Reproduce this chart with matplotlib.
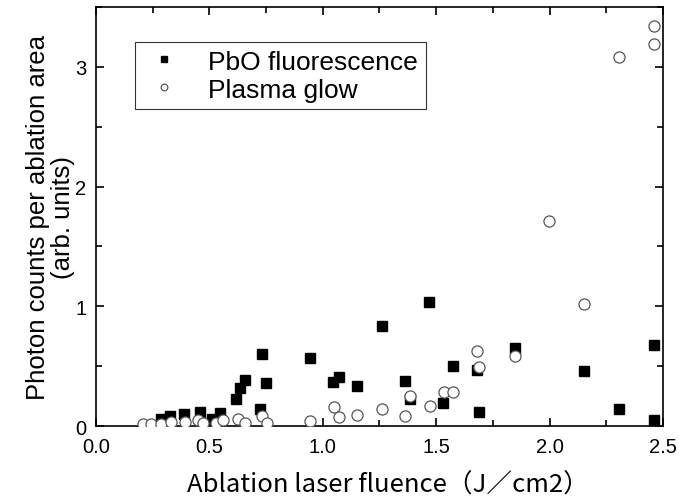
import matplotlib
matplotlib.use("Agg")
import matplotlib.pyplot as plt
from matplotlib.ticker import MultipleLocator

# PbO fluorescence (filled squares)
pbo_x = [0.288, 0.325, 0.388, 0.457, 0.513, 0.545, 0.619, 0.634, 0.656, 0.725, 0.732, 0.749,
         0.943, 1.046, 1.072, 1.152, 1.26, 1.363, 1.383, 1.469, 1.532, 1.573, 1.679, 1.69,
         1.846, 2.15, 2.305, 2.462, 2.459]
pbo_y = [0.058, 0.081, 0.100, 0.114, 0.058, 0.110, 0.226, 0.317, 0.384, 0.142, 0.605, 0.357,
         0.566, 0.370, 0.410, 0.337, 0.833, 0.373, 0.226, 1.040, 0.192, 0.504, 0.468, 0.114,
         0.649, 0.462, 0.142, 0.677, 0.050]

# Plasma glow (open circles)
glow_x = [0.207, 0.244, 0.288, 0.332, 0.391, 0.450, 0.472, 0.528, 0.560, 0.626, 0.656, 0.732,
          0.752, 0.943, 1.049, 1.072, 1.150, 1.260, 1.363, 1.383, 1.471, 1.535, 1.573, 1.679,
          1.690, 1.846, 1.996, 2.150, 2.305, 2.461, 2.461]
glow_y = [0.017, 0.017, 0.017, 0.036, 0.036, 0.050, 0.025, 0.025, 0.050, 0.058, 0.025, 0.081,
          0.025, 0.042, 0.156, 0.078, 0.094, 0.142, 0.086, 0.248, 0.170, 0.284, 0.284, 0.627,
          0.496, 0.588, 1.715, 1.017, 3.085, 3.194, 3.344]

x_ticks = [0, 0.5, 1.0, 1.5, 2.0, 2.5]
x_ticklabels = ['0.0', '0.5', '1.0', '1.5', '2.0', '2.5']
y_ticks = [0, 1, 2, 3]
y_ticklabels = ['0', '1', '2', '3']

plt.rcParams['font.family'] = ['Liberation Sans', 'DejaVu Sans']

fig = plt.figure(figsize=(6.79, 5.02), dpi=100)
ax = fig.add_axes([0.1414, 0.1494, 0.8350, 0.8346])

ax.plot(pbo_x, pbo_y, linestyle='none', marker='s', markersize=7.2,
        markerfacecolor='black', markeredgecolor='black', label='PbO fluorescence', zorder=3)
ax.plot(glow_x, glow_y, linestyle='none', marker='o', markersize=8,
        markerfacecolor='white', markeredgecolor='#555555', markeredgewidth=0.9,
        label='Plasma glow', zorder=4)

ax.set_xlim(0, 2.5)
ax.set_ylim(0, 3.5)
ax.xaxis.set_minor_locator(MultipleLocator(0.25))
ax.yaxis.set_minor_locator(MultipleLocator(0.5))
ax.set_xticks(x_ticks)
ax.set_xticklabels(x_ticklabels)
ax.set_yticks(y_ticks)
ax.set_yticklabels(y_ticklabels)

ax.tick_params(which='both', direction='in', top=True, right=True, width=1.2)
ax.tick_params(which='major', length=6, labelsize=14.5)
ax.tick_params(axis='x', which='major', pad=8)
ax.tick_params(axis='y', which='major', pad=7)
ax.tick_params(which='minor', length=4)
for s in ax.spines.values():
    s.set_linewidth(1.2)

ax.set_xlabel('Ablation laser fluence（J／cm2）', fontsize=18.5,
              family=['Noto Sans CJK JP', 'DejaVu Sans'], labelpad=11)
ax.xaxis.label.set_x(0.515)
ax.set_ylabel('Photon counts per ablation area\n(arb. units)', fontsize=18.5,
              linespacing=1.05, labelpad=0)

leg = ax.legend(loc='upper left', bbox_to_anchor=(0.069, 0.916), fontsize=19,
                frameon=True, fancybox=False, edgecolor='black', markerscale=0.6,
                handlelength=1.6, handletextpad=0.9, borderpad=0.28, labelspacing=0.15,
                borderaxespad=0)
leg.get_frame().set_linewidth(0.8)

fig.savefig('out.png', dpi=100)
